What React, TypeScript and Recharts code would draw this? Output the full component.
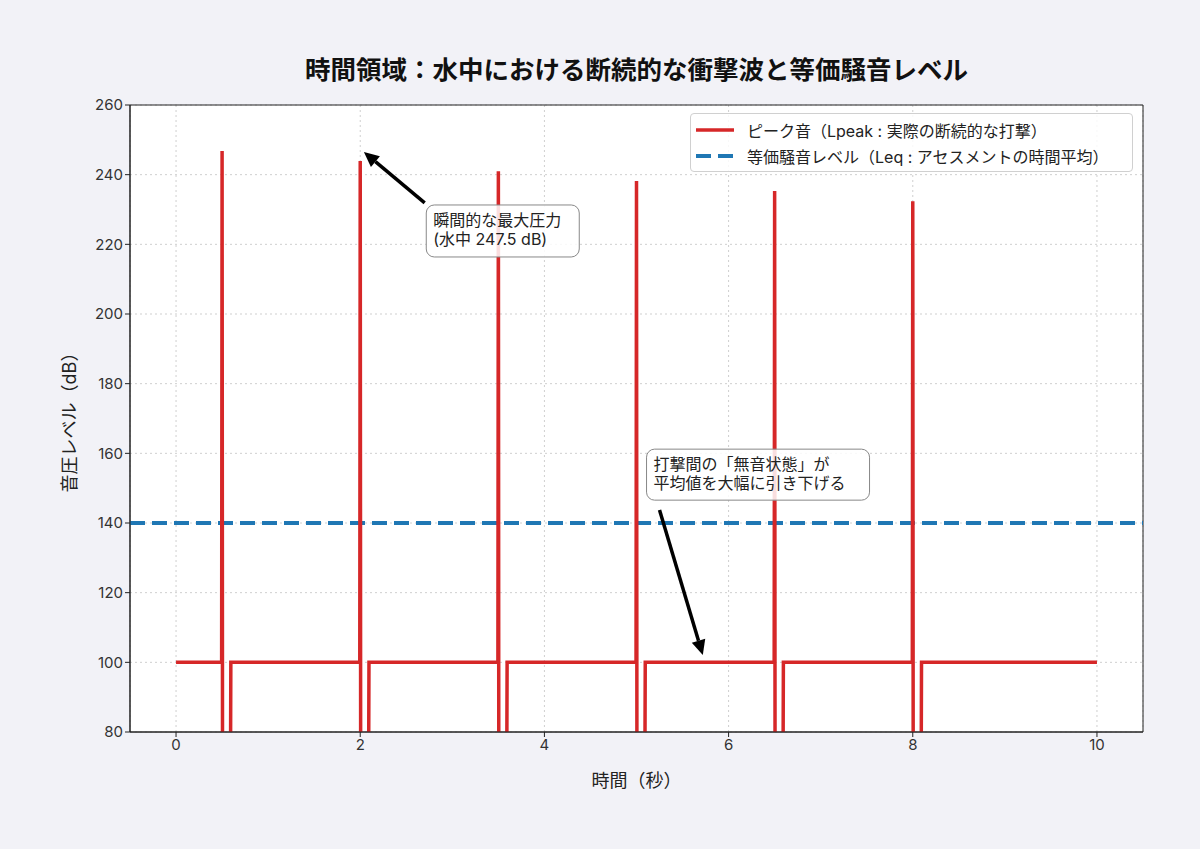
import React from "react"
import { CartesianGrid, Line, LineChart, ReferenceArea, ReferenceDot, ReferenceLine, XAxis, YAxis } from "recharts"

// impacts (s) and their peak levels (dB)
const impactTimes = [0.5, 2.0, 3.5, 5.0, 6.5, 8.0]
const peakLevels = [246.8, 243.9, 241.0, 238.2, 235.3, 232.4]
const baseLevel = 100
const dipLevel = 60
const startTime = 0
const endTime = 10
const leqLevel = 140

const xTicks = [0, 2, 4, 6, 8, 10]
const yTicks = [80, 100, 120, 140, 160, 180, 200, 220, 240, 260]

// build the stepped waveform from the impacts
const waveform: { t: number; level: number }[] = [{ t: startTime, level: baseLevel }]
impactTimes.forEach((t, i) => {
  waveform.push({ t: t - 0.005, level: baseLevel })
  waveform.push({ t, level: peakLevels[i] })
  waveform.push({ t: t + 0.005, level: dipLevel })
  waveform.push({ t: t + 0.09, level: dipLevel })
  waveform.push({ t: t + 0.095, level: baseLevel })
})
waveform.push({ t: endTime, level: baseLevel })

const RED = "#d62728"
const BLUE = "#1f77b4"
const FONT = '"Inter", "Noto Sans CJK JP", sans-serif'

const arrowShape = (props: any) => {
  const { x1, y1, x2, y2 } = props
  const dx = x2 - x1
  const dy = y2 - y1
  const len = Math.sqrt(dx * dx + dy * dy)
  const ux = dx / len
  const uy = dy / len
  const head = 15
  const half = 7
  const bx = x2 - ux * head
  const by = y2 - uy * head
  return (
    <g>
      <line x1={x1} y1={y1} x2={bx} y2={by} stroke="#000" strokeWidth={3.5} />
      <polygon
        points={`${x2},${y2} ${bx - uy * half},${by + ux * half} ${bx + uy * half},${by - ux * half}`}
        fill="#000"
      />
    </g>
  )
}

const noteBox = (lines: string[], w: number, h: number) => (props: any) => {
  const { cx, cy } = props
  return (
    <g>
      <rect x={cx} y={cy} width={w} height={h} rx={8} fill="#fff" fillOpacity={0.85} stroke="#888" strokeWidth={1} />
      {lines.map((s, i) => (
        <text key={i} x={cx + 7} y={cy + 21 + i * 19} fontSize={16} fill="#222">
          {s}
        </text>
      ))}
    </g>
  )
}

function LegendBox() {
  return (
    <div
      style={{
        position: "absolute",
        left: 690,
        top: 113,
        width: 443,
        height: 59,
        background: "rgba(255,255,255,0.85)",
        border: "1px solid #d0d0d0",
        borderRadius: 4,
        fontSize: 16,
        color: "#222",
        boxSizing: "border-box",
        padding: "3px 0 0 5px",
      }}
    >
      <div style={{ display: "flex", alignItems: "center", height: 26 }}>
        <svg width={38} height={10}>
          <line x1={0} y1={5} x2={38} y2={5} stroke={RED} strokeWidth={3.5} />
        </svg>
        <span style={{ marginLeft: 13 }}>ピーク音（Lpeak : 実際の断続的な打撃）</span>
      </div>
      <div style={{ display: "flex", alignItems: "center", height: 26 }}>
        <svg width={38} height={10}>
          <line x1={0} y1={5} x2={38} y2={5} stroke={BLUE} strokeWidth={4} strokeDasharray="15 7" />
        </svg>
        <span style={{ marginLeft: 13 }}>等価騒音レベル（Leq : アセスメントの時間平均）</span>
      </div>
    </div>
  )
}

export default function App() {
  return (
    <div
      style={{
        position: "fixed",
        left: 0,
        top: 0,
        width: 1200,
        height: 849,
        background: "#f2f2f7",
        fontFamily: FONT,
      }}
    >
      <div
        style={{
          position: "absolute",
          left: 130,
          width: 1013,
          top: 49,
          textAlign: "center",
          fontSize: 25.5,
          fontWeight: 700,
          color: "#111",
        }}
      >
        時間領域：水中における断続的な衝撃波と等価騒音レベル
      </div>
      <div
        style={{
          position: "absolute",
          left: 68,
          top: 418,
          transform: "translate(-50%, -50%) rotate(-90deg)",
          whiteSpace: "nowrap",
          fontSize: 18,
          color: "#222",
        }}
      >
        音圧レベル（dB）
      </div>
      <LineChart width={1200} height={849} data={waveform} margin={{ top: 105, right: 57, bottom: 57, left: 60 }}>
        <CartesianGrid stroke="#cfcfcf" strokeDasharray="2 3" fill="#fff" />
        <XAxis
          dataKey="t"
          type="number"
          domain={[-0.5, 10.5]}
          ticks={xTicks}
          allowDataOverflow
          height={60}
          stroke="#222"
          tick={{ fill: "#333", fontSize: 15 }}
          tickSize={5}
          label={{ value: "時間（秒）", position: "insideBottom", offset: 5, fontSize: 18, fill: "#222" }}
        />
        <YAxis
          type="number"
          domain={[80, 260]}
          ticks={yTicks}
          allowDataOverflow
          width={70}
          stroke="#222"
          tick={{ fill: "#333", fontSize: 15 }}
          tickSize={5}
        />
        <ReferenceArea x1={-0.5} x2={10.5} y1={80} y2={260} fill="none" stroke="#222" strokeWidth={1} />
        <ReferenceLine y={leqLevel} stroke={BLUE} strokeWidth={4} strokeDasharray="15 7" />
        <Line
          dataKey="level"
          type="linear"
          stroke={RED}
          strokeWidth={3.5}
          dot={false}
          isAnimationActive={false}
        />
        <ReferenceLine
          segment={[
            { x: 2.7, y: 231.9 },
            { x: 2.04, y: 246.5 },
          ]}
          shape={arrowShape}
        />
        <ReferenceLine
          segment={[
            { x: 5.25, y: 143.7 },
            { x: 5.72, y: 102.1 },
          ]}
          shape={arrowShape}
        />
        <ReferenceDot x={2.717} y={231.3} ifOverflow="visible" shape={noteBox(["瞬間的な最大圧力", "(水中 247.5 dB)"], 153, 52)} />
        <ReferenceDot
          x={5.109}
          y={161.2}
          ifOverflow="visible"
          shape={noteBox(["打撃間の「無音状態」が", "平均値を大幅に引き下げる"], 223, 51)}
        />
      </LineChart>
      <LegendBox />
    </div>
  )
}
